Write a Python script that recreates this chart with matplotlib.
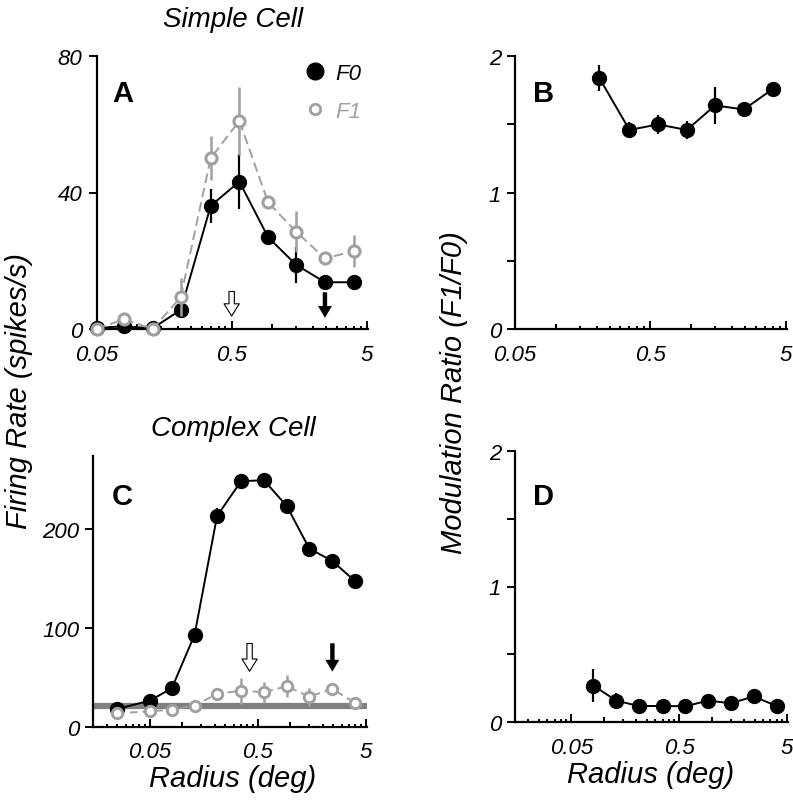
import matplotlib
matplotlib.use('Agg')
import matplotlib.pyplot as plt
from matplotlib.lines import Line2D
from matplotlib.ticker import FixedLocator, FixedFormatter, NullFormatter

# ---------------- data ----------------
# Panel A: simple cell
radius_A = [0.05, 0.08, 0.13, 0.21, 0.35, 0.57, 0.93, 1.5, 2.45, 4.0]
f0_A = [0.3, 0.8, 0.2, 5.6, 36.1, 43.2, 26.9, 18.8, 13.7, 13.7]
f0_A_err = [0, 0, 0, 2.5, 5.0, 8.0, 1.0, 5.3, 1.5, 2.0]
f1_A = [0.0, 2.9, 0.0, 9.3, 50.1, 61.0, 37.1, 28.5, 20.7, 22.8]
f1_A_err = [0, 0.5, 0, 5.5, 6.5, 10.0, 1.0, 6.0, 1.0, 4.7]

# Panel B: simple cell modulation ratio
radius_B = [0.21, 0.35, 0.57, 0.93, 1.5, 2.45, 4.0]
ratio_B = [1.84, 1.46, 1.50, 1.46, 1.64, 1.61, 1.76]
ratio_B_err = [0.095, 0.055, 0.07, 0.065, 0.135, 0.02, 0.02]

# Panel C: complex cell
radius_C = [0.025, 0.05, 0.08, 0.13, 0.21, 0.35, 0.57, 0.93, 1.5, 2.45, 4.0]
f0_C = [17.9, 26.3, 38.8, 92.8, 212.8, 247.8, 248.9, 222.6, 179.8, 167.3, 146.7]
f0_C_err = [2, 3, 2, 3, 7.5, 5, 6.5, 3, 2, 2, 2]
f1_C = [13.5, 15.6, 17.2, 21.3, 33.1, 36.4, 34.8, 40.9, 30.3, 38.1, 24.0]
f1_C_err = [2, 2, 2, 2, 6, 13, 10.5, 11, 9, 6, 2]
spont_C = 21.0

# Panel D: complex cell modulation ratio
radius_D = [0.08, 0.13, 0.21, 0.35, 0.57, 0.93, 1.5, 2.45, 4.0]
ratio_D = [0.27, 0.16, 0.12, 0.12, 0.118, 0.16, 0.14, 0.19, 0.12]
ratio_D_err = [0.12, 0.055, 0.02, 0.03, 0.03, 0.03, 0.02, 0.04, 0.02]

# arrows (x position, tail y, head y, filled)
arrows_A = [(0.5, 11.0, 3.8, False), (2.45, 10.7, 3.4, True)]
arrows_C = [(0.42, 84.0, 56.0, False), (2.45, 84.0, 56.0, True)]

# axis tick definitions
xtick_major = [0.05, 0.5, 5]
xtick_labels = ['0.05', '0.5', '5']
xtick_mid = [0.1, 1.0]
xtick_minor_AB = [0.15, 0.2, 0.25, 0.3, 0.35, 0.4, 0.45, 1.5, 2, 2.5, 3, 3.5, 4, 4.5]
xtick_minor_CD = [0.02, 0.025, 0.03, 0.035, 0.04, 0.045] + xtick_minor_AB

# ---------------- style ----------------
plt.rcParams['font.family'] = ['Liberation Sans', 'DejaVu Sans']
plt.rcParams['font.style'] = 'italic'

GRAY = '#a0a0a0'
TICKSIZE = 16
W, H = 793, 803
fig = plt.figure(figsize=(W / 100, H / 100), dpi=100)


def add_ax(l, r, t, b):
    return fig.add_axes([l / W, 1 - b / H, (r - l) / W, (b - t) / H])


def style(ax, xlim, ylim, yt, ytl, xminor):
    ax.set_xscale('log')
    ax.set_xlim(*xlim)
    ax.set_ylim(*ylim)
    for s in ['top', 'right']:
        ax.spines[s].set_visible(False)
    for s in ['left', 'bottom']:
        ax.spines[s].set_linewidth(1.6)
    xt = sorted(xtick_major + xtick_mid)
    labs = [xtick_labels[xtick_major.index(v)] if v in xtick_major else '' for v in xt]
    ax.xaxis.set_major_locator(FixedLocator(xt))
    ax.xaxis.set_major_formatter(FixedFormatter(labs))
    ax.xaxis.set_minor_locator(FixedLocator(xminor))
    ax.xaxis.set_minor_formatter(NullFormatter())
    ax.tick_params(axis='x', which='both', direction='in', width=1.4, pad=10.5,
                   labelsize=TICKSIZE)
    ax.tick_params(axis='x', which='major', length=6)
    ax.tick_params(axis='x', which='minor', length=2.4)
    for v, t in zip(xt, ax.xaxis.get_major_ticks()):
        if v in xtick_mid:
            t.tick1line.set_markersize(3.8)
    ax.yaxis.set_major_locator(FixedLocator(yt))
    ax.yaxis.set_major_formatter(FixedFormatter(ytl))
    ax.tick_params(axis='y', which='both', direction='out', length=5.5, width=1.4,
                   pad=4.5, labelsize=TICKSIZE)
    ax.patch.set_visible(False)


def arrow(ax, x, yt, yh, filled):
    if filled:
        style_s = 'simple,head_length=0.85,head_width=1.0,tail_width=0.3'
        ms = 9.5
    else:
        style_s = 'simple,head_length=0.8,head_width=1.0,tail_width=0.35'
        ms = 11
    ax.annotate('', xy=(x, yh), xytext=(x, yt),
                arrowprops=dict(arrowstyle=style_s,
                                fc='black' if filled else 'white', ec='black',
                                lw=0.8 if not filled else 0.3,
                                shrinkA=0, shrinkB=0, mutation_scale=ms), zorder=6)


def letter(ax, x, y, s):
    ax.text(x, y, s, transform=ax.transAxes, fontsize=21, fontweight='bold',
            fontstyle='normal', va='baseline', ha='left')


# ---------------- Panel A ----------------
axA = add_ax(96.5, 368, 57, 330)
style(axA, (0.05, 5.1), (0, 80), [0, 40, 80], ['0', '40', '80'], xtick_minor_AB)
axA.errorbar(radius_A, f0_A, yerr=f0_A_err, fmt='none', ecolor='black', elinewidth=1.6,
             capsize=0, zorder=2)
axA.plot(radius_A, f0_A, '-o', color='black', ms=10, lw=1.4, zorder=3, clip_on=False)
axA.errorbar(radius_A, f1_A, yerr=f1_A_err, fmt='none', ecolor=GRAY, elinewidth=1.8,
             capsize=0, zorder=4)
axA.plot(radius_A, f1_A, 'o', ls=(0, (5, 2.5)), color=GRAY, mfc='white', mec=GRAY, ms=8,
         mew=2.2, lw=1.4, zorder=5, clip_on=False)
for a in arrows_A:
    arrow(axA, *a)
letter(axA, 0.057, 0.836, 'A')
handles = [Line2D([], [], ls='none', marker='o', color='black', ms=12),
           Line2D([], [], ls='none', marker='o', mfc='white', mec=GRAY, ms=7.5, mew=2)]
leg = axA.legend(handles, ['F0', 'F1'], loc='upper left', bbox_to_anchor=(0.765, 0.975),
                 frameon=False, fontsize=TICKSIZE, handlelength=1.0, handletextpad=0.4,
                 labelspacing=0.78, borderaxespad=0, borderpad=0)
leg.get_texts()[1].set_color(GRAY)

# ---------------- Panel B ----------------
axB = add_ax(515, 787, 57.3, 330)
style(axB, (0.05, 5.1), (0, 2), [0, 0.5, 1, 1.5, 2], ['0', '', '1', '', '2'], xtick_minor_AB)
axB.errorbar(radius_B, ratio_B, yerr=ratio_B_err, fmt='none', ecolor='black', elinewidth=1.6,
             capsize=0, zorder=2)
axB.plot(radius_B, ratio_B, '-o', color='black', ms=10, lw=1.4, zorder=3, clip_on=False)
letter(axB, 0.066, 0.837, 'B')

# ---------------- Panel C ----------------
axC = add_ax(93.3, 366.7, 457.3, 727.7)
style(axC, (0.015, 5.1), (0, 273), [0, 100, 200], ['0', '100', '200'], xtick_minor_CD)
axC.axhline(spont_C, color='#808080', lw=4.5, zorder=1)
axC.errorbar(radius_C, f0_C, yerr=f0_C_err, fmt='none', ecolor='black', elinewidth=1.6,
             capsize=0, zorder=2)
axC.plot(radius_C, f0_C, '-o', color='black', ms=10, lw=1.4, zorder=3, clip_on=False)
axC.errorbar(radius_C, f1_C, yerr=f1_C_err, fmt='none', ecolor=GRAY, elinewidth=1.8,
             capsize=0, zorder=4)
axC.plot(radius_C, f1_C, 'o', ls=(0, (4, 2.5)), color=GRAY, mfc='white', mec=GRAY, ms=7.5,
         mew=2.1, lw=1.4, zorder=5, clip_on=False)
for a in arrows_C:
    arrow(axC, *a)
letter(axC, 0.068, 0.824, 'C')

# ---------------- Panel D ----------------
axD = add_ax(515, 788, 451.7, 723.3)
style(axD, (0.015, 5.1), (0, 2), [0, 0.5, 1, 1.5, 2], ['0', '', '1', '', '2'], xtick_minor_CD)
axD.errorbar(radius_D, ratio_D, yerr=ratio_D_err, fmt='none', ecolor='black', elinewidth=1.6,
             capsize=0, zorder=2)
axD.plot(radius_D, ratio_D, '-o', color='black', ms=10, lw=1.4, zorder=3, clip_on=False)
letter(axD, 0.066, 0.804, 'D')

# ---------------- figure texts ----------------
fig.text(233 / W, 1 - 26.7 / H, 'Simple Cell', fontsize=20, ha='center', va='baseline')
fig.text(233 / W, 1 - 436 / H, 'Complex Cell', fontsize=20, ha='center', va='baseline')
fig.text(19.5 / W, 1 - 391.5 / H, 'Firing Rate (spikes/s)', fontsize=21, rotation=90,
         ha='center', va='center')
fig.text(454 / W, 1 - 393 / H, 'Modulation Ratio (F1/F0)', fontsize=21, rotation=90,
         ha='center', va='center')
fig.text(233 / W, 1 - 787 / H, 'Radius (deg)', fontsize=21, ha='center', va='baseline')
fig.text(651 / W, 1 - 783 / H, 'Radius (deg)', fontsize=21, ha='center', va='baseline')

fig.savefig('out.png', dpi=100)
